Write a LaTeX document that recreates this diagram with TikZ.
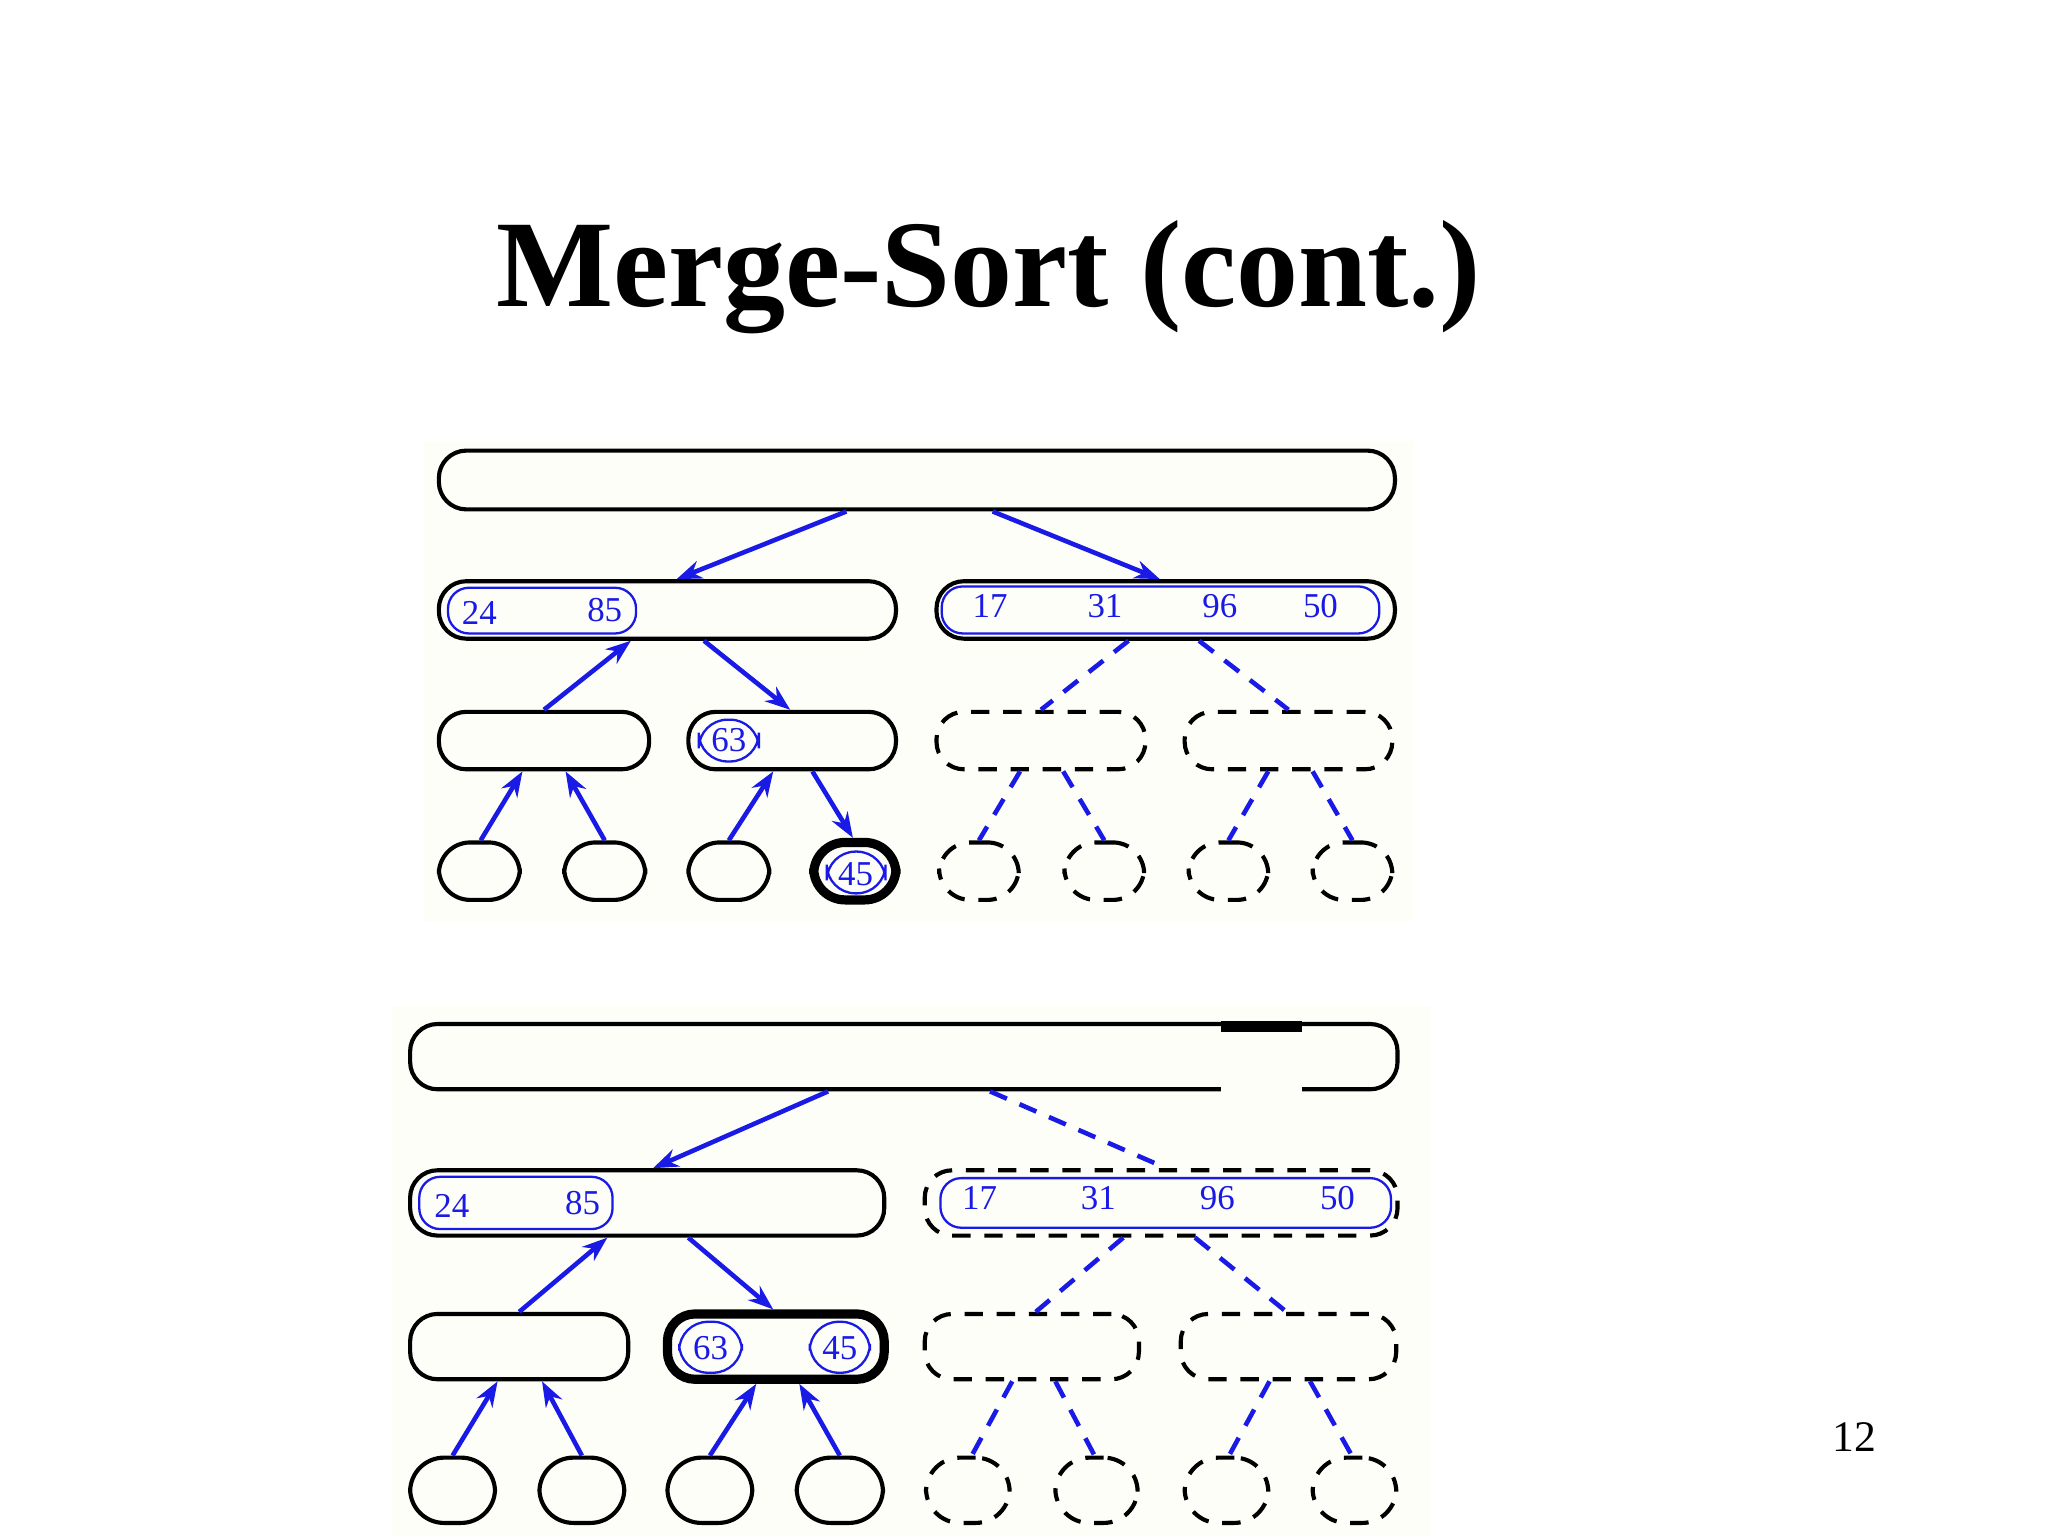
\documentclass[tikz,border=0pt]{standalone}
\usepackage{fontspec}
\setmainfont{Liberation Serif}
\usetikzlibrary{arrows.meta,calc}
\definecolor{panel}{HTML}{FEFEF8}
\definecolor{nblue}{HTML}{1A1AE6}
\newcommand{\bx}[6]{\node[#6, minimum width={(#4-#2)*0.01cm}, minimum height={(#5-#3)*0.01cm}] (#1) at ({(#2+#4)/2},{(#3+#5)/2}) {};}
% \cn{style}{nodeA}{anchorA}{dxA}{nodeB}{anchorB}{dxB}
\newcommand{\cn}[7]{\draw[#1] ($(#2.#3)+(#4,0)$) -- ($(#5.#6)+(#7,0)$);}
\tikzset{
 box/.style={draw=black, line width=0.9pt, rounded corners=0.21cm, inner sep=0pt, fill=panel},
 dbox/.style={box, dashed, dash pattern=on 4pt off 3pt},
 thickbox/.style={box, line width=2pt},
 inner/.style={draw=nblue, line width=0.5pt, rounded corners=0.16cm, inner sep=0pt},
 circ/.style={inner, rounded corners=0.22cm},
 num/.style={text=nblue, font=\fontsize{7.6}{8}\selectfont, inner sep=0pt},
 arr/.style={draw=nblue, line width=1pt, -{Stealth[length=5.5pt,width=4pt]}},
 darr/.style={draw=nblue, line width=1pt, dash pattern=on 4pt off 3pt},
}
\begin{document}
\begin{tikzpicture}[x=0.01cm,y=-0.01cm]
\useasboundingbox (0,0) rectangle (1568,1176);
\fill[white] (0,0) rectangle (1568,1176);
\node[font=\fontsize{27}{30}\selectfont\bfseries, inner sep=0pt] (title) at (757,212) {Merge-Sort (cont.)};
\node[font=\fontsize{9.5}{10}\selectfont, inner sep=0pt] (pg) at (1420,1100) {12};
% ---------- panel 1
\fill[panel] (325,338) rectangle (1082,705);
\bx{r1}{336}{345}{1068}{390}{box}
\bx{a1}{336}{445}{686}{489}{box}
\bx{b1}{717}{445}{1068}{489}{box}
\bx{ai1}{343}{450}{487}{485}{inner}
\bx{bi1}{721}{449}{1056}{485}{inner}
\node[num] (n24a) at (367,469) {24};
\node[num] (n85a) at (463,467) {85};
\node[num] (n17a) at (758,464) {17};
\node[num] (n31a) at (846,464) {31};
\node[num] (n96a) at (934,464) {96};
\node[num] (n50a) at (1011,464) {50};
\bx{c1}{336}{545}{497}{589}{box}
\bx{d1}{527}{545}{686}{589}{box}
\bx{e1}{717}{545}{877}{589}{dbox}
\bx{f1}{907}{545}{1066}{589}{dbox}
\bx{di1}{535}{551}{581}{583}{circ}
\node[num] (n63a) at (558,567) {63};
\foreach \nm/\xa/\xb/\st in {g1/336/398/box,h1/432/494/box,i1/527/589/box,j1/623/686/thickbox,k1/719/780/dbox,l1/815/876/dbox,m1/910/971/dbox,o1/1005/1066/dbox}{
 \bx{\nm}{\xa}{645}{\xb}{689}{\st, rounded corners=0.24cm}
}
\bx{ji1}{633}{652}{678}{684}{circ}
\node[num] (n45a) at (655,669) {45};
\cn{arr}{r1}{south}{-54}{a1}{north}{7}
\cn{arr}{r1}{south}{58}{b1}{north}{-4.5}
\cn{arr}{c1}{north}{0}{a1}{south}{-28}
\cn{arr}{a1}{south}{28}{d1}{north}{-1.5}
\cn{darr}{b1}{south}{-28.5}{e1}{north}{0}
\cn{darr}{b1}{south}{25.5}{f1}{north}{0}
\cn{arr}{g1}{north}{1}{c1}{south}{-16.5}
\cn{arr}{h1}{north}{0}{c1}{south}{16.5}
\cn{arr}{i1}{north}{0}{d1}{south}{-14.5}
\cn{arr}{d1}{south}{15.5}{j1}{north}{-1.5}
\cn{darr}{e1}{south}{-16}{k1}{north}{0}
\cn{darr}{e1}{south}{17}{l1}{north}{0}
\cn{darr}{f1}{south}{-15.5}{m1}{north}{0}
\cn{darr}{f1}{south}{18.5}{o1}{north}{0}
% ---------- panel 2
\fill[panel] (300,770) rectangle (1095,1176);
\bx{r2}{314}{784}{1070}{834}{box}
\fill[panel] (935,829) rectangle (997,840);
\draw[line width=2.4pt] (935,786) -- (997,786);
\bx{a2}{314}{896}{677}{946}{box}
\bx{b2}{708}{896}{1070}{946}{dbox}
\bx{ai2}{321}{901}{469}{941}{inner}
\bx{bi2}{720}{902}{1065}{940}{inner}
\node[num] (n24b) at (346,923) {24};
\node[num] (n85b) at (446,921) {85};
\node[num] (n17b) at (750,917) {17};
\node[num] (n31b) at (841,917) {31};
\node[num] (n96b) at (932,917) {96};
\node[num] (n50b) at (1024,917) {50};
\bx{c2}{314}{1006}{481}{1056}{box}
\bx{d2}{511}{1006}{677}{1056}{thickbox}
\bx{e2}{708}{1006}{872}{1056}{dbox}
\bx{f2}{904}{1006}{1069}{1056}{dbox}
\bx{di2}{520}{1012}{568}{1051}{circ}
\bx{dj2}{620}{1012}{666}{1051}{circ}
\node[num] (n63b) at (544,1032) {63};
\node[num] (n45b) at (643,1032) {45};
\foreach \nm/\xa/\xb/\st in {g2/314/379/box,h2/413/478/box,i2/511/576/box,j2/610/676/box,k2/709/773/dbox,l2/808/871/dbox,m2/907/971/dbox,o2/1005/1069/dbox}{
 \bx{\nm}{\xa}{1116}{\xb}{1166}{\st, rounded corners=0.26cm}
}
\cn{arr}{r2}{south}{-58}{a2}{north}{4.5}
\cn{darr}{r2}{south}{66}{b2}{north}{4}
\cn{arr}{c2}{north}{0}{a2}{south}{-30.5}
\cn{arr}{a2}{south}{31.5}{d2}{north}{-2}
\cn{darr}{b2}{south}{-29}{e2}{north}{3}
\cn{darr}{b2}{south}{26}{f2}{north}{-1.5}
\cn{arr}{g2}{north}{0}{c2}{south}{-16.5}
\cn{arr}{h2}{north}{0}{c2}{south}{17.5}
\cn{arr}{i2}{north}{0}{d2}{south}{-15}
\cn{arr}{j2}{north}{0}{d2}{south}{18}
\cn{darr}{e2}{south}{-15}{k2}{north}{3}
\cn{darr}{e2}{south}{18}{l2}{north}{-1.5}
\cn{darr}{f2}{south}{-14.5}{m2}{north}{2}
\cn{darr}{f2}{south}{16.5}{o2}{north}{-2}
\end{tikzpicture}
\end{document}
